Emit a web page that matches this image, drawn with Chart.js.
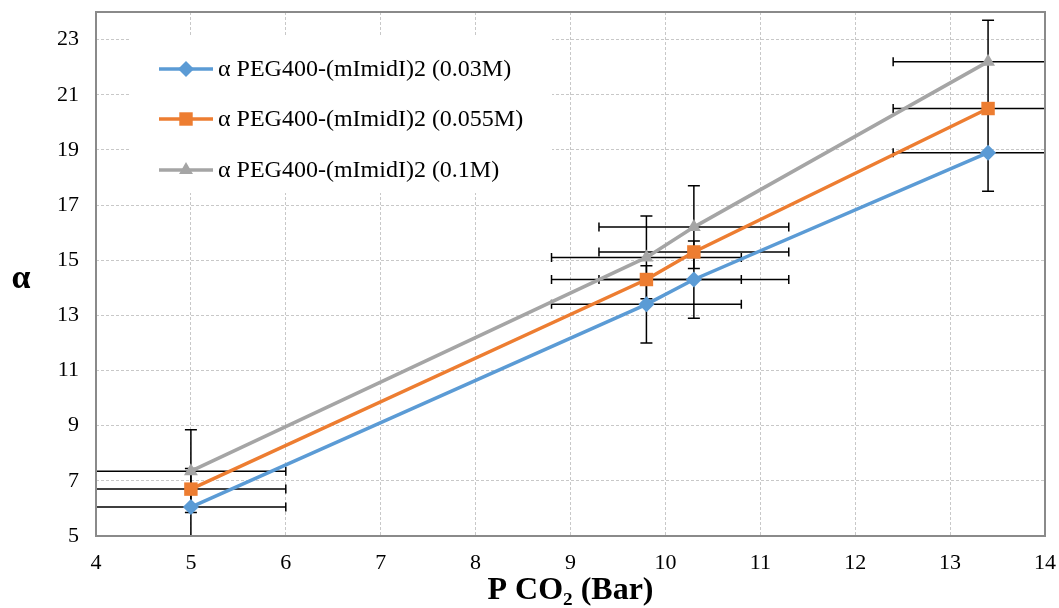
<!DOCTYPE html>
<html>
<head>
<meta charset="utf-8">
<script src="https://cdn.jsdelivr.net/npm/chart.js@4/dist/chart.umd.min.js"></script>
<style>
    html, body { margin: 0; padding: 0; background: #ffffff; }
    #wrap { width: 1059px; height: 608px; }
</style>
</head>
<body>
<div id="wrap">
    <canvas id="alphaChart" width="1059" height="608"></canvas>
</div>
<script>

// ============================================
// DATOS
// ============================================

const pressure = [5, 9.8, 10.3, 13.4];

const alpha003 = [6.05, 13.4, 14.3, 18.9];
const alpha0055 = [6.7, 14.3, 15.3, 20.5];
const alpha01 = [7.35, 15.1, 16.2, 22.2];

const pressureError = [1, 1, 1, 1];

const alphaError003 = [1.4, 1.4, 1.4, 1.4];
const alphaError0055 = [0, 0, 0, 0];
const alphaError01 = [1.5, 1.5, 1.5, 1.5];

const seriesLabels = [
    'α PEG400-(mImidI)2 (0.03M)',
    'α PEG400-(mImidI)2 (0.055M)',
    'α PEG400-(mImidI)2 (0.1M)'
];

const xTicks = [4, 5, 6, 7, 8, 9, 10, 11, 12, 13, 14];
const yTicks = [5, 7, 9, 11, 13, 15, 17, 19, 21, 23];

const serif = '"Liberation Serif", "Times New Roman", serif';


// ============================================
// HELPERS
// ============================================

function toPoints(values) {
    return pressure.map((p, i) => ({ x: p, y: values[i] }));
}

function makeSeries(label, values, yErr, color, style, radius) {
    return {
        label,
        data: toPoints(values),
        xErr: pressureError,
        yErr,
        showLine: true,
        borderColor: color,
        backgroundColor: color,
        borderWidth: 3.5,
        tension: 0,
        pointStyle: style,
        pointRadius: radius,
        pointHoverRadius: radius,
        pointBorderWidth: 0,
        legendRadius: radius
    };
}

function noOverhang(s) {
    s.paddingTop = 0;
    s.paddingBottom = 0;
    s.paddingLeft = 0;
    s.paddingRight = 0;
}


// ============================================
// BARRAS DE ERROR + MARCO
// ============================================

const errorBars = {
    id: 'errorBars',
    beforeDatasetsDraw(chart) {
        const { ctx, chartArea: a, scales: { x, y } } = chart;

        ctx.save();
        ctx.beginPath();
        ctx.rect(a.left, a.top, a.right - a.left, a.bottom - a.top);
        ctx.clip();
        ctx.strokeStyle = '#000000';
        ctx.lineWidth = 1.5;

        chart.data.datasets.forEach(ds => {
            ds.data.forEach((p, i) => {
                const px = x.getPixelForValue(p.x);
                const py = y.getPixelForValue(p.y);

                // horizontal
                const ex = ds.xErr[i];
                if (ex > 0) {
                    const x1 = x.getPixelForValue(p.x - ex);
                    const x2 = x.getPixelForValue(p.x + ex);
                    ctx.beginPath();
                    ctx.moveTo(x1, py); ctx.lineTo(x2, py);
                    ctx.moveTo(x1, py - 4.5); ctx.lineTo(x1, py + 4.5);
                    ctx.moveTo(x2, py - 4.5); ctx.lineTo(x2, py + 4.5);
                    ctx.stroke();
                }

                // vertical
                const ey = ds.yErr[i];
                if (ey > 0) {
                    const y1 = y.getPixelForValue(p.y - ey);
                    const y2 = y.getPixelForValue(p.y + ey);
                    ctx.beginPath();
                    ctx.moveTo(px, y1); ctx.lineTo(px, y2);
                    ctx.moveTo(px - 6, y1); ctx.lineTo(px + 6, y1);
                    ctx.moveTo(px - 6, y2); ctx.lineTo(px + 6, y2);
                    ctx.stroke();
                }
            });
        });
        ctx.restore();

        // marco del area
        ctx.save();
        ctx.strokeStyle = '#8a8a8a';
        ctx.lineWidth = 2;
        ctx.strokeRect(a.left, a.top, a.right - a.left, a.bottom - a.top);
        ctx.restore();
    }
};


// ============================================
// LEYENDA Y TITULO Y
// ============================================

const innerLegend = {
    id: 'innerLegend',
    afterDraw(chart) {
        const ctx = chart.ctx;

        ctx.save();
        ctx.fillStyle = '#ffffff';
        ctx.fillRect(130, 37, 422, 156);

        const rows = [69, 119, 170];

        chart.data.datasets.forEach((ds, i) => {
            const ry = rows[i];
            ctx.strokeStyle = ds.borderColor;
            ctx.lineWidth = 3.5;
            ctx.beginPath();
            ctx.moveTo(159, ry);
            ctx.lineTo(213, ry);
            ctx.stroke();

            ctx.fillStyle = ds.backgroundColor;
            Chart.helpers.drawPoint(ctx, {
                pointStyle: ds.pointStyle,
                radius: ds.legendRadius,
                rotation: 0,
                borderWidth: 0
            }, 186, ry);

            ctx.fillStyle = '#000000';
            ctx.font = '24px ' + serif;
            ctx.textAlign = 'left';
            ctx.textBaseline = 'middle';
            ctx.fillText(ds.label, 218, ry + 1);
        });

        // titulo del eje Y
        ctx.font = 'bold 34px ' + serif;
        ctx.textAlign = 'center';
        ctx.fillText('α', 21, 279);
        ctx.restore();
    }
};


// ============================================
// GRAFICA
// ============================================

new Chart(document.getElementById('alphaChart').getContext('2d'), {
    type: 'scatter',
    data: {
        datasets: [
            makeSeries(seriesLabels[0], alpha003, alphaError003, '#5b9bd5', 'rectRot', 8),
            makeSeries(seriesLabels[1], alpha0055, alphaError0055, '#ed7d31', 'rect', 9.5),
            makeSeries(seriesLabels[2], alpha01, alphaError01, '#a5a5a5', 'triangle', 8)
        ]
    },
    options: {
        responsive: false,
        animation: false,
        devicePixelRatio: 1,
        layout: {
            padding: { top: 12, right: 14, left: 0, bottom: 0 }
        },
        plugins: {
            legend: { display: false },
            tooltip: { enabled: false }
        },
        scales: {
            x: {
                type: 'linear',
                min: 4,
                max: 14,
                afterBuildTicks: s => { s.ticks = xTicks.map(v => ({ value: v })); },
                afterFit: s => { s.height = 72; noOverhang(s); },
                ticks: {
                    color: '#000000',
                    font: { family: serif, size: 22 },
                    padding: 14
                },
                grid: {
                    color: '#c8c8c8',
                    lineWidth: 1,
                    drawTicks: false
                },
                border: { display: false, dash: [3, 2] },
                title: {
                    display: true,
                    text: 'P CO₂ (Bar)',
                    color: '#000000',
                    font: { family: serif, size: 32, weight: 'bold', lineHeight: 1.05 },
                    padding: { top: 0, bottom: 0 }
                }
            },
            y: {
                type: 'linear',
                min: 5,
                max: 24,
                afterBuildTicks: s => { s.ticks = yTicks.map(v => ({ value: v })); },
                afterFit: s => { s.width = 96; noOverhang(s); },
                ticks: {
                    color: '#000000',
                    font: { family: serif, size: 22 },
                    padding: 17
                },
                grid: {
                    color: '#c8c8c8',
                    lineWidth: 1,
                    drawTicks: false
                },
                border: { display: false, dash: [3, 2] }
            }
        }
    },
    plugins: [errorBars, innerLegend]
});

</script>
</body>
</html>
